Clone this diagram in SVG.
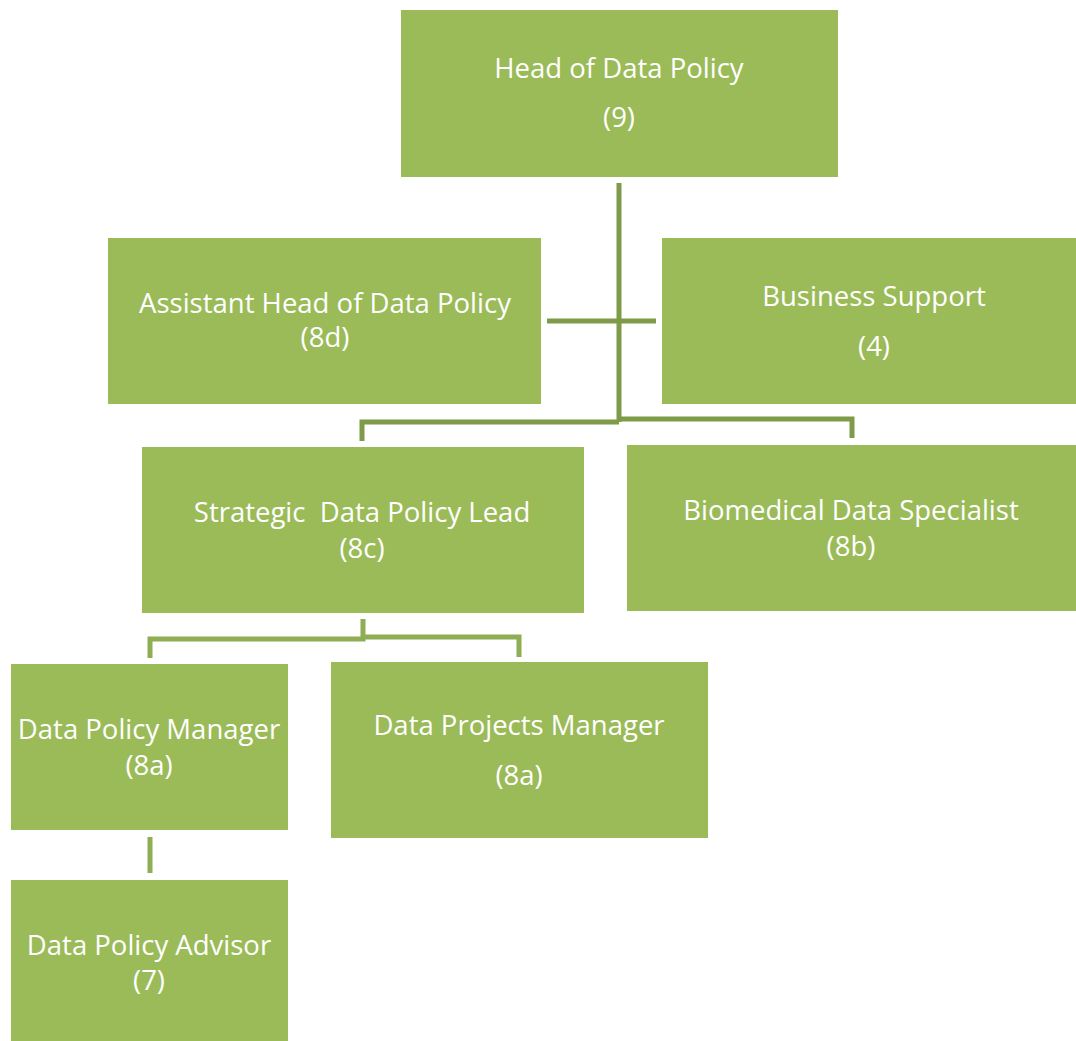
<svg xmlns="http://www.w3.org/2000/svg" width="1076" height="1041" viewBox="0 0 1076 1041">
<style>
.box{fill:#9BBB59;}
.t{font-family:"Open Sans","Liberation Sans",sans-serif;font-size:27.5px;fill:#ffffff;text-anchor:middle;}
.c1{stroke:#7F9A48;stroke-width:5;fill:none;}
.c2{stroke:#8FAD52;stroke-width:5;fill:none;}
</style>
<rect width="1076" height="1041" fill="#ffffff"/>
<g id="connectors">
<path class="c1" d="M619 183 V422"/>
<path class="c1" d="M547 321 H656"/>
<path class="c1" d="M362 441 V422 H619"/>
<path class="c1" d="M619 419 H852 V438"/>
<path class="c2" d="M363 619 V639 H150 V658"/>
<path class="c2" d="M363 637 H519 V657"/>
<path class="c2" d="M150 837 V873"/>
</g>
<g id="head"><rect class="box" x="401" y="10" width="437" height="167"/>
<text class="t" x="619" y="78">Head of Data Policy</text><text class="t" x="619" y="127">(9)</text></g>
<g id="assistant"><rect class="box" x="108" y="238" width="433" height="166"/>
<text class="t" x="325" y="313">Assistant Head of Data Policy</text><text class="t" x="325" y="347">(8d)</text></g>
<g id="business"><rect class="box" x="662" y="238" width="414" height="166"/>
<text class="t" x="874" y="306">Business Support</text><text class="t" x="874" y="356">(4)</text></g>
<g id="strategic"><rect class="box" x="142" y="447" width="442" height="166"/>
<text class="t" x="362" y="522" xml:space="preserve">Strategic  Data Policy Lead</text><text class="t" x="362" y="558">(8c)</text></g>
<g id="biomedical"><rect class="box" x="627" y="445" width="449" height="166"/>
<text class="t" x="851" y="520">Biomedical Data Specialist</text><text class="t" x="851" y="556">(8b)</text></g>
<g id="dpm"><rect class="box" x="11" y="664" width="277" height="166"/>
<text class="t" x="149" y="739">Data Policy Manager</text><text class="t" x="149" y="775">(8a)</text></g>
<g id="dprojm"><rect class="box" x="331" y="662" width="377" height="176"/>
<text class="t" x="519" y="735">Data Projects Manager</text><text class="t" x="519" y="785">(8a)</text></g>
<g id="advisor"><rect class="box" x="11" y="880" width="277" height="161"/>
<text class="t" x="149" y="955">Data Policy Advisor</text><text class="t" x="149" y="990">(7)</text></g>
</svg>
